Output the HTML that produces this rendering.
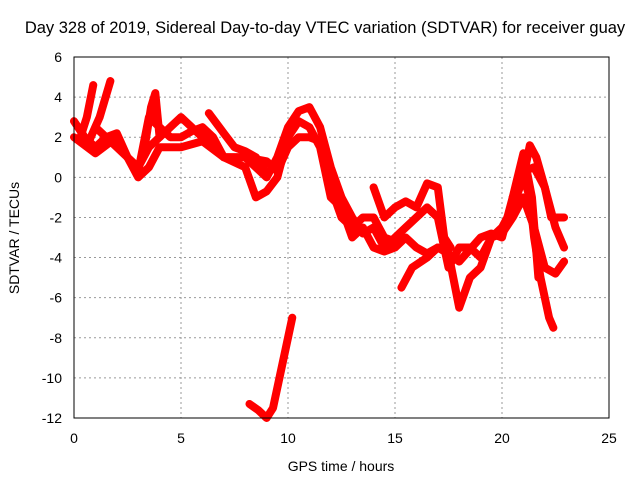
<!DOCTYPE html>
<html><head><meta charset="utf-8"><style>
body{margin:0;background:#fff;}
svg{display:block;font-family:"Liberation Sans",sans-serif;}
</style></head><body>
<svg id="c" width="640" height="480">
<text x="325" y="33" font-size="16.5" text-anchor="middle">Day 328 of 2019, Sidereal Day-to-day VTEC variation (SDTVAR) for receiver guay</text>
<text x="19" y="238" font-size="14" text-anchor="middle" transform="rotate(-90 19 238)">SDTVAR / TECUs</text>
<text x="341" y="471" font-size="14" text-anchor="middle">GPS time / hours</text>
<g id="grid"></g><g id="ticks"></g><g id="marks"></g>
<rect x="74" y="57" width="535" height="361" fill="none" stroke="#000" stroke-width="1"/>
</svg>
<script>
const xTicks=[0,5,10,15,20,25];
const yTicks=[-12,-10,-8,-6,-4,-2,0,2,4,6];
const trackA=[[0,2.8],[0.5,2],[1,1.5],[1.5,2],[2,2.2],[2.5,1],[3,0.5],[3.5,1.5],[4,2],[4.5,2.5],[5,3],[5.5,2.5],[6,2],[6.5,1.5],[7,1],[7.5,1],[8,1],[8.5,0.5],[9,0],[9.5,1],[10,2.5],[10.5,3.3],[11,3.5],[11.5,2.5],[12,0.5],[12.5,-1],[13,-2],[13.5,-2.8],[14,-2.5],[14.5,-3.5],[15,-3],[15.5,-2.5],[16,-2],[16.5,-1.5],[17,-2],[17.5,-4.5],[18,-3.5],[18.5,-3.5],[19,-4],[19.5,-3],[20,-2.5],[20.5,-1.5],[21,0],[21.3,1.6],[21.6,1],[22,-0.5],[22.3,-2],[22.7,-2],[22.9,-2]];
const trackB=[[0,2],[1,1.2],[2,2],[3,0],[3.5,0.5],[4,1.5],[5,1.5],[6,1.8],[7,1],[8,0.5],[8.5,-1],[9,-0.7],[9.5,0],[10,2],[10.5,2.8],[11,2.5],[11.5,1.5],[12,-1],[12.5,-1.5],[13,-3],[13.5,-2.5],[14,-3.5],[14.5,-3.7],[15,-3.5],[15.5,-3],[16,-3.5],[16.5,-3.8],[17,-3.5],[17.5,-3.8],[18,-4.2],[19,-3],[19.5,-2.8],[20,-3],[20.5,-1],[21,1.2],[21.4,-1],[21.7,-5]];
const trackC=[[1,2.5],[2,1.5],[2.5,1],[3,0.3],[3.5,3],[4,2.5],[4.5,2],[5,2],[5.5,2.3],[6,2.5],[6.5,2],[7,1],[8,1],[9,0.8],[9.5,0.3],[10,1.5],[10.5,2],[11,2],[11.5,1.8],[12,-0.5],[12.5,-2],[13,-2.5],[13.5,-2],[14,-2],[14.5,-3],[15,-3.2]];
const trackD=[[15.3,-5.5],[15.8,-4.5],[16.5,-4],[17,-3.5],[17.5,-3.8],[18,-6.5],[18.5,-5],[19,-4.5],[19.5,-3],[20,-2.8],[20.5,-2],[21,-1],[21.5,-2.5],[22,-4.5],[22.5,-4.8],[22.9,-4.2]];
const trackE=[[21,0],[21.3,-1],[21.5,-3],[21.8,-5],[22,-6],[22.2,-7],[22.4,-7.5]];
const trackF=[[14,-0.5],[14.5,-2],[15,-1.5],[15.5,-1.2],[16,-1.5],[16.5,-0.3],[17,-0.5],[17.3,-3],[17.6,-3.5]];
const trackG=[[20.5,-1],[21,0.3],[21.5,0.5],[22,-0.5],[22.5,-2.5],[22.9,-3.5]];
const trackH=[[8.2,-11.3],[8.6,-11.6],[9,-12],[9.3,-11.5],[9.6,-10],[9.9,-8.5],[10.2,-7]];
const trackI=[[3.3,1.5],[3.6,3.5],[3.8,4.2],[4,2]];
const trackJ=[[0.3,2],[0.6,3],[0.9,4.6]];
const trackK=[[0.7,1.8],[1.2,3],[1.7,4.8]];
const trackL=[[6.3,3.2],[7,2.2],[7.5,1.5],[8,1.3],[8.5,1],[9,0.2]];
const tracks=[trackA,trackB,trackC,trackD,trackE,trackF,trackG,trackH,trackI,trackJ,trackK,trackL];
const X=v=>74+v*(535/25), Y=v=>418-(v+12)*(361/18);
const NS="http://www.w3.org/2000/svg";
const g=document.getElementById('grid'),t=document.getElementById('ticks'),m=document.getElementById('marks');
function mk(tag,a,p){const e=document.createElementNS(NS,tag);for(const k in a)e.setAttribute(k,a[k]);p.appendChild(e);return e;}
xTicks.forEach(v=>{
 if(v>0&&v<25){const l=mk('line',{x1:X(v),x2:X(v),y1:57,y2:418,stroke:'#999','stroke-dasharray':'2,3'},g);
 
 }
 const s=mk('text',{x:X(v),y:443,'font-size':14,'text-anchor':'middle'},t);s.textContent=v;
 
 
});
yTicks.forEach(v=>{
 if(v>-12&&v<6){const l=mk('line',{x1:74,x2:609,y1:Y(v),y2:Y(v),stroke:'#999','stroke-dasharray':'2,3'},g);
 
 }
 const s=mk('text',{x:62,y:Y(v)+5,'font-size':14,'text-anchor':'end'},t);s.textContent=v;
 
 
});
tracks.forEach((tr,i)=>{
 const p=mk('polyline',{points:tr.map(d=>X(d[0])+','+Y(d[1])).join(' '),fill:'none',stroke:'#f00','stroke-width':8,'stroke-linejoin':'round','stroke-linecap':'round'},m);
 
 
});
</script>
</body></html>
